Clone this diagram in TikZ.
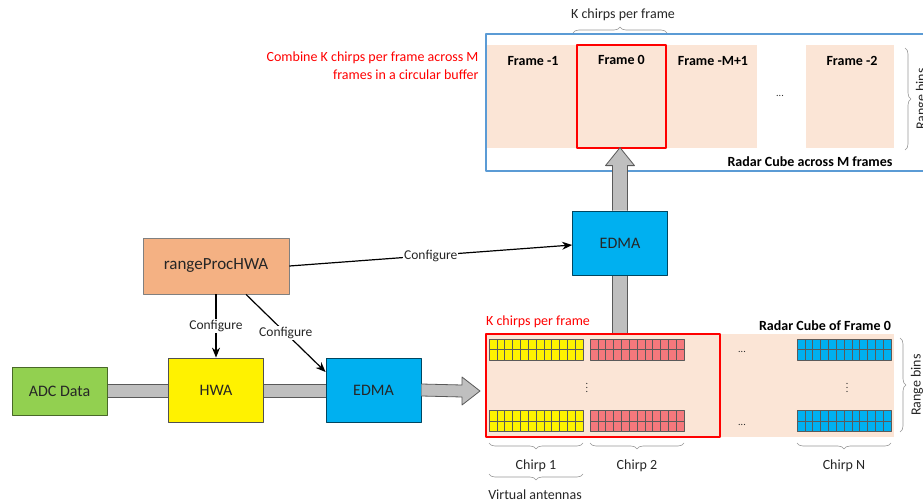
\documentclass[tikz,border=0pt]{standalone}
\usepackage{fontspec}
\setmainfont{Carlito}
\usetikzlibrary{arrows.meta,decorations.pathreplacing,backgrounds,calc}
\definecolor{peach}{RGB}{251,229,214}
\definecolor{cubeblue}{RGB}{91,155,213}
\definecolor{edmacyan}{RGB}{0,176,240}
\definecolor{adcgreen}{RGB}{146,208,80}
\definecolor{rporange}{RGB}{244,177,131}
\definecolor{bandgray}{RGB}{191,191,191}
\definecolor{banddark}{RGB}{89,89,89}
\definecolor{boxline}{RGB}{80,80,80}
\definecolor{txt}{RGB}{38,38,38}
\definecolor{bracegray}{RGB}{150,150,150}
\definecolor{cellred}{RGB}{244,120,124}
\definecolor{celldark}{RGB}{90,90,90}
\begin{document}
\begin{tikzpicture}[x=1pt,y=-1pt,>={Stealth[length=10pt,width=8pt]},line join=round]
\tikzset{blk/.style={draw=boxline,line width=0.8pt,minimum width=95pt,minimum height=64pt,inner sep=0pt,font=\fontsize{16}{18}\selectfont,text=txt},
	cfg/.style={->,line width=1.2pt},
	cfglbl/.style={fill=white,inner sep=1pt,font=\fontsize{13.5}{15}\selectfont,text=txt},
	lbl/.style={font=\fontsize{14}{16}\selectfont,text=txt},
	boldlbl/.style={font=\fontsize{14}{16}\selectfont\bfseries,text=black},
	brc/.style={draw=bracegray,line width=0.6pt,decorate,decoration={brace,amplitude=6pt}},
	band/.style={fill=bandgray,draw=banddark,line width=0.8pt},
	cell/.style={draw=celldark,line width=0.5pt},
	area/.style={fill=peach,inner sep=0pt,minimum height=103pt}}
\useasboundingbox (0,0) rectangle (923,503);
% processing blocks
\node[blk,fill=adcgreen,draw=adcgreen!50!black,minimum height=48pt] (adc) at (59.5,391) {ADC Data};
\node[blk,fill=yellow] (hwa) at (216,390) {HWA};
\node[blk,fill=edmacyan,draw=edmacyan!40!black] (edmaL) at (373.5,390) {EDMA};
\node[blk,fill=edmacyan,draw=edmacyan!40!black] (edmaU) at (620,243) {EDMA};
\node[blk,fill=rporange,draw=gray,minimum width=146pt,minimum height=56pt,font=\fontsize{17}{19}\selectfont] (rp) at (216,266) {rangeProcHWA};
% radar cube across M frames
\node[draw=cubeblue,line width=1.6pt,minimum width=449pt,minimum height=137pt] (cubeM) at (710.5,102.5) {};
\node[area,minimum width=270pt] (frames) at (622,96.5) {};
\node[area,minimum width=88pt] (fm2) at (850,96.5) {};
\node[draw=red,line width=1.5pt,minimum width=89pt,minimum height=103pt] (f0) at (621.5,96.5) {};
\node[boldlbl] (t1) at (533,61) {Frame -1};
\node[boldlbl] (t0) at (621.5,60) {Frame 0};
\node[boldlbl] (tm) at (713,61) {Frame -M+1};
\node[boldlbl] (t2) at (852,61) {Frame -2};
\node[lbl,font=\fontsize{10}{12}\selectfont] (dm) at (780,96) {...};
\node[boldlbl] (tcm) at (810,162) {Radar Cube across M frames};
\draw[brc] (573,33) -- (667,33);
\node[lbl] (kM) at (623,15) {K chirps per frame};
\draw[brc] (905,48) -- (905,150);
\node[lbl,rotate=90] (rbM) at (922,99) {Range bins};
\node[text=red,font=\fontsize{14}{18}\selectfont,align=right,anchor=east] (note) at (482,66) {Combine K chirps per frame across M\\frames in a circular buffer};
% radar cube of frame 0
\node[area,minimum width=408pt] (cube0) at (690,385.5) {};
\node[draw=red,line width=1.5pt,minimum width=234pt,minimum height=103pt] (kbox) at (603,385.5) {};
\foreach \x/\c in {489/yellow,590/cellred,797/edmacyan}
	\foreach \y in {339,349.5,410.5,421}
		\foreach \i in {0,...,11}
			\draw[cell,fill=\c] ({\x+\i*7.83},\y) rectangle ++(7.83,10.5);
\node[text=txt] (v1) at (587,385) {$\vdots$};
\node[text=txt] (v2) at (847,385) {$\vdots$};
\node[lbl,font=\fontsize{10}{12}\selectfont] (h1) at (742,352) {...};
\node[lbl,font=\fontsize{10}{12}\selectfont] (h2) at (742,425) {...};
\node[text=red,font=\fontsize{14}{16}\selectfont] (k0) at (538,322) {K chirps per frame};
\node[boldlbl] (tc0) at (825,326) {Radar Cube of Frame 0};
\draw[brc,decoration={mirror}] (489,443) -- (583,443);
\draw[brc,decoration={mirror}] (590,443) -- (684,443);
\draw[brc,decoration={mirror}] (797,443) -- (891,443);
\node[lbl] (c1) at (536,466) {Chirp 1};
\node[lbl] (c2) at (637,466) {Chirp 2};
\node[lbl] (cn) at (844,466) {Chirp N};
\draw[brc,decoration={mirror}] (489,474) -- (583,474);
\node[lbl] (va) at (535,495) {Virtual antennas};
\draw[brc] (900,338) -- (900,432);
\node[lbl,rotate=90] (rb0) at (917,385) {Range bins};
% data path
\coordinate (tip) at (480,391);
\begin{pgfonlayer}{background}
	\filldraw[band] ($(adc.east)+(0,-7)$) rectangle ($(edmaL.east)+(0,7)$);
	\filldraw[band] ($(edmaU.south)+(-7.5,0)$) rectangle ($(kbox.north-|edmaU)+(7.5,0)$);
\end{pgfonlayer}
\filldraw[band] ($(edmaL.east)+(0,-6)$) -- ($(tip)+(-18,-6)$) -- ($(tip)+(-18,-14)$) -- (tip)
	-- ($(tip)+(-18,14)$) -- ($(tip)+(-18,6)$) -- ($(edmaL.east)+(0,6)$);
\filldraw[band] ($(edmaU.north)+(-7.5,0)$) -- ($(edmaU.north)+(-7.5,-45)$) -- ($(edmaU.north)+(-14.5,-45)$)
	-- ($(edmaU.north)+(0,-63)$) -- ($(edmaU.north)+(14.5,-45)$) -- ($(edmaU.north)+(7.5,-45)$) -- ($(edmaU.north)+(7.5,0)$);
% configuration
\draw[cfg] (rp) -- node[cfglbl] {Configure} (hwa);
\draw[cfg] ([xshift=30pt]rp.south) -- node[cfglbl] {Configure} ([yshift=18pt]edmaL.west);
\draw[cfg] (rp.east) -- node[cfglbl,pos=0.5] {Configure} ([yshift=-2pt]edmaU.west);
\end{tikzpicture}
\end{document}
